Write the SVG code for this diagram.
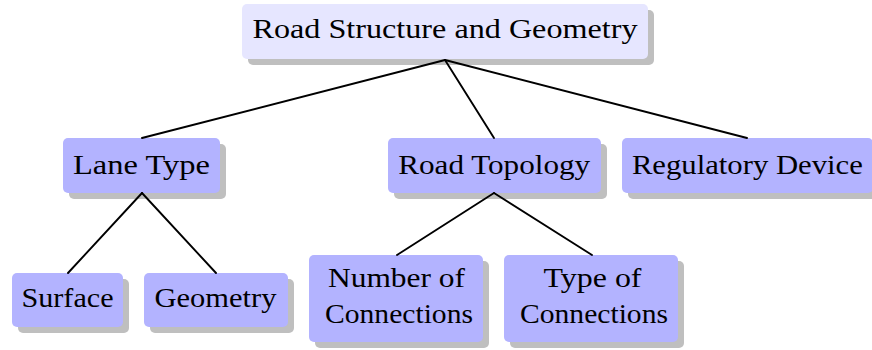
<svg xmlns="http://www.w3.org/2000/svg" width="872" height="350" viewBox="0 0 872 350">
<style>
.sh{fill:#bfbfbf}
.bx{fill:#b3b3ff}
.rt{fill:#e6e6ff}
.t{font-family:'Liberation Serif','Times New Roman',serif;font-size:27px;fill:#000;text-anchor:middle}
.e{stroke:#000;stroke-width:1.9;fill:none;stroke-linecap:round}
</style>
<rect width="872" height="350" fill="#fff"/>
<g id="root">
<rect class="sh" x="248" y="10" width="406" height="55" rx="5"/>
<rect class="rt" x="242" y="4" width="406" height="55" rx="5"/>
<text class="t" x="445" y="38" textLength="385" lengthAdjust="spacingAndGlyphs">Road Structure and Geometry</text>
</g>
<g id="lane-type">
<rect class="sh" x="69" y="144" width="157" height="55" rx="5"/>
<rect class="bx" x="63" y="138" width="157" height="55" rx="5"/>
<text class="t" x="141.5" y="173.5" textLength="137" lengthAdjust="spacingAndGlyphs">Lane Type</text>
</g>
<g id="road-topology">
<rect class="sh" x="394" y="144" width="213" height="55" rx="5"/>
<rect class="bx" x="388" y="138" width="213" height="55" rx="5"/>
<text class="t" x="494.2" y="173.5" textLength="192" lengthAdjust="spacingAndGlyphs">Road Topology</text>
</g>
<g id="regulatory-device">
<rect class="sh" x="628" y="144" width="251" height="55" rx="5"/>
<rect class="bx" x="622" y="138" width="251" height="55" rx="5"/>
<text class="t" x="747.4" y="173.5" textLength="231" lengthAdjust="spacingAndGlyphs">Regulatory Device</text>
</g>
<g id="surface">
<rect class="sh" x="18" y="279" width="111" height="54" rx="5"/>
<rect class="bx" x="12" y="273" width="111" height="54" rx="5"/>
<text class="t" x="67.5" y="307" textLength="92" lengthAdjust="spacingAndGlyphs">Surface</text>
</g>
<g id="geometry">
<rect class="sh" x="150" y="279" width="144" height="54" rx="5"/>
<rect class="bx" x="144" y="273" width="144" height="54" rx="5"/>
<text class="t" x="215.5" y="307" textLength="122" lengthAdjust="spacingAndGlyphs">Geometry</text>
</g>
<g id="number-of-connections">
<rect class="sh" x="315" y="261" width="174" height="87" rx="5"/>
<rect class="bx" x="309" y="255" width="174" height="87" rx="5"/>
<text class="t" x="396.5" y="287" textLength="137" lengthAdjust="spacingAndGlyphs">Number of</text>
<text class="t" x="399" y="323" textLength="148" lengthAdjust="spacingAndGlyphs">Connections</text>
</g>
<g id="type-of-connections">
<rect class="sh" x="510" y="261" width="174" height="87" rx="5"/>
<rect class="bx" x="504" y="255" width="174" height="87" rx="5"/>
<text class="t" x="592.5" y="287" textLength="98" lengthAdjust="spacingAndGlyphs">Type of</text>
<text class="t" x="594" y="323" textLength="148" lengthAdjust="spacingAndGlyphs">Connections</text>
</g>
<g id="connectors">
<line class="e" x1="445" y1="60" x2="142" y2="138"/>
<line class="e" x1="445" y1="60" x2="494" y2="138"/>
<line class="e" x1="445" y1="60" x2="747" y2="138"/>
<line class="e" x1="142" y1="193" x2="68" y2="273"/>
<line class="e" x1="142" y1="193" x2="216" y2="273"/>
<line class="e" x1="494" y1="193" x2="397" y2="255"/>
<line class="e" x1="494" y1="193" x2="592" y2="255"/>
</g>
</svg>
